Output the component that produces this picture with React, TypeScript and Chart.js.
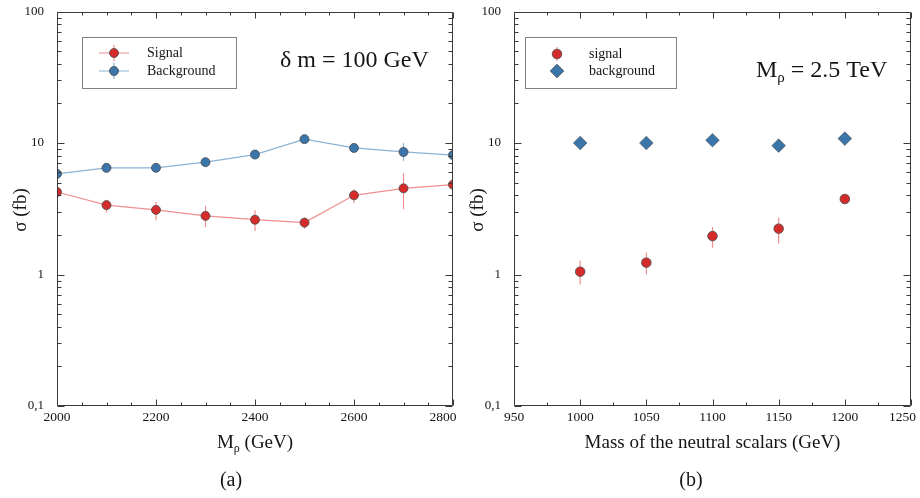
import React, { useEffect, useRef } from 'react';
import { Chart, registerables } from 'chart.js';

Chart.register(...registerables);

// ---------- data ----------
const massRho = [2000, 2100, 2200, 2300, 2400, 2500, 2600, 2700, 2800];
const signalA = [4.24, 3.37, 3.10, 2.79, 2.61, 2.48, 4.0, 4.52, 4.82];
const signalALo = [4.0, 2.96, 2.59, 2.30, 2.14, 2.23, 3.5, 3.14, 4.6];
const signalAHi = [4.5, 3.71, 3.56, 3.33, 3.08, 2.71, 4.45, 5.9, 5.05];
const backgroundA = [5.83, 6.47, 6.47, 7.15, 8.17, 10.7, 9.17, 8.55, 8.1];
const backgroundALo = [5.65, 6.3, 6.3, 6.95, 7.95, 10.4, 8.9, 7.3, 7.9];
const backgroundAHi = [6.0, 6.65, 6.65, 7.35, 8.4, 11.0, 9.45, 10.0, 8.3];

const massScalar = [1000, 1050, 1100, 1150, 1200];
const signalB = [1.05, 1.23, 1.96, 2.23, 3.75];
const signalBLo = [0.84, 1.0, 1.6, 1.72, 3.55];
const signalBHi = [1.27, 1.47, 2.3, 2.7, 3.95];
const backgroundB = [10.0, 10.0, 10.5, 9.55, 10.8];

const yTickValues = [0.1, 1, 10, 100];
const yTickLabels = ['0,1', '1', '10', '100'];
const xTickLabelsA = ['2000', '2200', '2400', '2600', '2800'];
const xTickLabelsB = ['950', '1000', '1050', '1100', '1150', '1200', '1250'];

// ---------- style ----------
const SERIF = '"Liberation Serif", "DejaVu Serif", "Times New Roman", serif';
const RED = '#d52b2b';
const RED_LIGHT = '#f08f8f';
const BLUE = '#3a76aa';
const BLUE_LIGHT = '#8ab3d6';
const MARK_BORDER = '#4a4a4a';
const TEXT = '#151515';

function dotCircle(ctx: CanvasRenderingContext2D, x: number, y: number, r: number, fill: string) {
  ctx.beginPath();
  ctx.arc(x, y, r, 0, Math.PI * 2);
  ctx.fillStyle = fill;
  ctx.fill();
  ctx.lineWidth = 0.8;
  ctx.strokeStyle = MARK_BORDER;
  ctx.stroke();
}

function dotDiamond(ctx: CanvasRenderingContext2D, x: number, y: number, r: number, fill: string) {
  ctx.beginPath();
  ctx.moveTo(x, y - r);
  ctx.lineTo(x + r, y);
  ctx.lineTo(x, y + r);
  ctx.lineTo(x - r, y);
  ctx.closePath();
  ctx.fillStyle = fill;
  ctx.fill();
  ctx.lineWidth = 0.8;
  ctx.strokeStyle = MARK_BORDER;
  ctx.stroke();
}

function drawRich(ctx: CanvasRenderingContext2D, parts: [string, number, number][], x: number, y: number, align: 'left' | 'center') {
  let total = 0;
  for (const [t, s] of parts) {
    ctx.font = `${s}px ${SERIF}`;
    total += ctx.measureText(t).width;
  }
  let cx = align === 'center' ? x - total / 2 : x;
  ctx.textAlign = 'left';
  ctx.textBaseline = 'alphabetic';
  for (const [t, s, dy] of parts) {
    ctx.font = `${s}px ${SERIF}`;
    ctx.fillText(t, cx, y + dy);
    cx += ctx.measureText(t).width;
  }
}

type ErrSpec = { xs: number[]; lo: number[]; hi: number[]; color: string };

function errorBarPlugin(specs: ErrSpec[]) {
  return {
    id: 'errorBars',
    beforeDatasetsDraw(chart: any) {
      const { ctx, chartArea: a, scales } = chart;
      ctx.save();
      ctx.beginPath();
      ctx.rect(a.left, a.top, a.right - a.left, a.bottom - a.top);
      ctx.clip();
      ctx.lineWidth = 1.2;
      for (const s of specs) {
        ctx.strokeStyle = s.color;
        s.xs.forEach((xv, i) => {
          const px = scales.x.getPixelForValue(xv);
          ctx.beginPath();
          ctx.moveTo(px, scales.y.getPixelForValue(s.lo[i]));
          ctx.lineTo(px, scales.y.getPixelForValue(s.hi[i]));
          ctx.stroke();
        });
      }
      ctx.restore();
    },
  };
}

function framePlugin(minorStep: number, majorStep: number) {
  return {
    id: 'frameTicks',
    afterDatasetsDraw(chart: any) {
      const { ctx, chartArea: a, scales } = chart;
      const xs = scales.x;
      const ys = scales.y;
      const L = Math.round(a.left) + 0.5;
      const R = Math.round(a.right) - 0.5;
      const T = Math.round(a.top) + 0.5;
      const B = Math.round(a.bottom) - 0.5;
      ctx.save();
      ctx.strokeStyle = '#3a3a3a';
      ctx.lineWidth = 1;
      ctx.beginPath();
      ctx.rect(L, T, R - L, B - T);
      for (let v = xs.min; v <= xs.max + 1e-6; v += minorStep) {
        const px = Math.round(xs.getPixelForValue(v)) + 0.5;
        const major = Math.abs((v - xs.min) % majorStep) < 1e-6;
        const len = major ? 6 : 3;
        ctx.moveTo(px, B);
        ctx.lineTo(px, B - len);
        ctx.moveTo(px, T);
        ctx.lineTo(px, T + len);
      }
      const yVals: [number, boolean][] = [];
      [0.1, 1, 10].forEach((d) => {
        for (let k = 1; k <= 9; k++) yVals.push([d * k, k === 1]);
      });
      yVals.push([100, true]);
      for (const [v, major] of yVals) {
        const py = Math.round(ys.getPixelForValue(v)) + 0.5;
        const len = major ? 7 : 4;
        ctx.moveTo(L, py);
        ctx.lineTo(L + len, py);
        ctx.moveTo(R, py);
        ctx.lineTo(R - len, py);
      }
      ctx.stroke();
      ctx.restore();
    },
  };
}

function baseOptions(xMin: number, xMax: number, step: number, yAxisWidth: number, rightPad: number, xLabels: string[], lastPad: string) {
  return {
    animation: false,
    responsive: false,
    devicePixelRatio: 1,
    layout: { padding: { top: 10, right: rightPad, left: 0, bottom: 0 } },
    plugins: { legend: { display: false }, tooltip: { enabled: false } },
    scales: {
      x: {
        type: 'linear',
        min: xMin,
        max: xMax,
        afterFit: (s: any) => {
          s.height = 92;
        },
        grid: { display: false },
        border: { display: false },
        ticks: {
          stepSize: step,
          maxRotation: 0,
          autoSkip: false,
          padding: -3,
          color: TEXT,
          font: { family: SERIF, size: 13.5, lineHeight: 1 },
          callback: (v: number, i: number, arr: any[]) => {
            const idx = Math.round((v - xMin) / step);
            const lbl = xLabels[idx] ?? '';
            return i === arr.length - 1 ? lbl + lastPad : lbl;
          },
        },
      },
      y: {
        type: 'logarithmic',
        min: 0.1,
        max: 100,
        afterFit: (s: any) => {
          s.width = yAxisWidth;
        },
        afterBuildTicks: (s: any) => {
          s.ticks = yTickValues.map((value) => ({ value }));
        },
        grid: { display: false },
        border: { display: false },
        ticks: {
          padding: 5,
          color: TEXT,
          font: { family: SERIF, size: 13, lineHeight: 1 },
          callback: (v: number) => {
            const idx = yTickValues.findIndex((t) => Math.abs(t - v) < 1e-9);
            return idx >= 0 ? yTickLabels[idx] : '';
          },
        },
      },
    },
  };
}

function configA(): any {
  return {
    type: 'scatter',
    data: {
      datasets: [
        {
          label: 'Signal',
          data: massRho.map((x, i) => ({ x, y: signalA[i] })),
          showLine: true,
          borderColor: RED_LIGHT,
          borderWidth: 1.2,
          pointRadius: 4.5,
          pointBackgroundColor: RED,
          pointBorderColor: MARK_BORDER,
          pointBorderWidth: 0.8,
          clip: 0,
        },
        {
          label: 'Background',
          data: massRho.map((x, i) => ({ x, y: backgroundA[i] })),
          showLine: true,
          borderColor: BLUE_LIGHT,
          borderWidth: 1.2,
          pointRadius: 4.5,
          pointBackgroundColor: BLUE,
          pointBorderColor: MARK_BORDER,
          pointBorderWidth: 0.8,
          clip: 0,
        },
      ],
    },
    options: baseOptions(2000, 2800, 200, 57, 27, xTickLabelsA, '      '),
    plugins: [
      errorBarPlugin([
        { xs: massRho, lo: signalALo, hi: signalAHi, color: RED_LIGHT },
        { xs: massRho, lo: backgroundALo, hi: backgroundAHi, color: BLUE_LIGHT },
      ]),
      framePlugin(50, 200),
      {
        id: 'textsA',
        afterDraw(chart: any) {
          const ctx: CanvasRenderingContext2D = chart.ctx;
          const a = chart.chartArea;
          ctx.save();
          ctx.fillStyle = TEXT;
          // y title
          ctx.save();
          ctx.translate(21, 210);
          ctx.rotate(-Math.PI / 2);
          ctx.font = `19px ${SERIF}`;
          ctx.textAlign = 'center';
          ctx.textBaseline = 'middle';
          ctx.fillText('σ (fb)', 0, 0);
          ctx.restore();
          // x title
          drawRich(ctx, [['M', 19, 0], ['ρ', 12, 4], [' (GeV)', 19, 0]], (a.left + a.right) / 2, 448, 'center');
          // caption
          ctx.font = `20px ${SERIF}`;
          ctx.textAlign = 'center';
          ctx.textBaseline = 'alphabetic';
          ctx.fillText('(a)', 231, 486);
          // annotation
          drawRich(ctx, [['δ m = 100 GeV', 24, 0]], 280, 67, 'left');
          // legend
          ctx.fillStyle = '#ffffff';
          ctx.fillRect(82.5, 37.5, 154, 51);
          ctx.strokeStyle = '#808080';
          ctx.lineWidth = 1;
          ctx.strokeRect(82.5, 37.5, 154, 51);
          const rows: [string, string, string, number][] = [
            ['Signal', RED, RED_LIGHT, 53],
            ['Background', BLUE, BLUE_LIGHT, 71],
          ];
          for (const [label, col, light, ry] of rows) {
            ctx.strokeStyle = light;
            ctx.lineWidth = 1.2;
            ctx.beginPath();
            ctx.moveTo(99, ry);
            ctx.lineTo(129, ry);
            ctx.moveTo(114, ry - 8);
            ctx.lineTo(114, ry + 8);
            ctx.stroke();
            dotCircle(ctx, 114, ry, 4.5, col);
            ctx.fillStyle = TEXT;
            ctx.font = `14px ${SERIF}`;
            ctx.textAlign = 'left';
            ctx.textBaseline = 'middle';
            ctx.fillText(label, 147, ry);
          }
          ctx.restore();
        },
      },
    ],
  };
}

function configB(): any {
  return {
    type: 'scatter',
    data: {
      datasets: [
        {
          label: 'signal',
          data: massScalar.map((x, i) => ({ x, y: signalB[i] })),
          showLine: false,
          pointRadius: 4.8,
          pointBackgroundColor: RED,
          pointBorderColor: MARK_BORDER,
          pointBorderWidth: 0.8,
        },
        {
          label: 'background',
          data: massScalar.map((x, i) => ({ x, y: backgroundB[i] })),
          showLine: false,
          pointStyle: 'rectRot',
          pointRadius: 6.8,
          pointBackgroundColor: BLUE,
          pointBorderColor: MARK_BORDER,
          pointBorderWidth: 0.6,
        },
      ],
    },
    options: baseOptions(950, 1250, 50, 54, 29, xTickLabelsB, '     '),
    plugins: [
      errorBarPlugin([{ xs: massScalar, lo: signalBLo, hi: signalBHi, color: RED_LIGHT }]),
      framePlugin(25, 50),
      {
        id: 'textsB',
        afterDraw(chart: any) {
          const ctx: CanvasRenderingContext2D = chart.ctx;
          const a = chart.chartArea;
          ctx.save();
          ctx.fillStyle = TEXT;
          ctx.save();
          ctx.translate(18, 210);
          ctx.rotate(-Math.PI / 2);
          ctx.font = `19px ${SERIF}`;
          ctx.textAlign = 'center';
          ctx.textBaseline = 'middle';
          ctx.fillText('σ (fb)', 0, 0);
          ctx.restore();
          drawRich(ctx, [['Mass of the neutral scalars (GeV)', 19, 0]], (a.left + a.right) / 2, 448, 'center');
          ctx.font = `20px ${SERIF}`;
          ctx.textAlign = 'center';
          ctx.textBaseline = 'alphabetic';
          ctx.fillText('(b)', 231, 486);
          drawRich(ctx, [['M', 24, 0], ['ρ', 15, 5], [' = 2.5 TeV', 24, 0]], 296, 77, 'left');
          // legend
          ctx.fillStyle = '#ffffff';
          ctx.fillRect(65.5, 37.5, 151, 51);
          ctx.strokeStyle = '#808080';
          ctx.lineWidth = 1;
          ctx.strokeRect(65.5, 37.5, 151, 51);
          ctx.strokeStyle = RED_LIGHT;
          ctx.lineWidth = 1.2;
          ctx.beginPath();
          ctx.moveTo(97, 54 - 7);
          ctx.lineTo(97, 54 + 7);
          ctx.stroke();
          dotCircle(ctx, 97, 54, 4.8, RED);
          dotDiamond(ctx, 97, 71, 6.8, BLUE);
          ctx.fillStyle = TEXT;
          ctx.font = `14px ${SERIF}`;
          ctx.textAlign = 'left';
          ctx.textBaseline = 'middle';
          ctx.fillText('signal', 129, 54);
          ctx.fillText('background', 129, 71);
          ctx.restore();
        },
      },
    ],
  };
}

function Panel({ make, left, width }: { make: () => any; left: number; width: number }) {
  const ref = useRef<HTMLCanvasElement>(null);
  useEffect(() => {
    const chart = new Chart(ref.current as HTMLCanvasElement, make());
    return () => chart.destroy();
  }, []);
  return (
    <canvas
      ref={ref}
      width={width}
      height={498}
      style={{ position: 'absolute', left, top: 0, width, height: 498, display: 'block' }}
    />
  );
}

export default function App() {
  return (
    <div
      style={{
        position: 'absolute',
        left: 0,
        top: 0,
        width: 920,
        height: 498,
        overflow: 'hidden',
        background: '#ffffff',
      }}
    >
      <Panel make={configA} left={0} width={480} />
      <Panel make={configB} left={460} width={480} />
    </div>
  );
}
